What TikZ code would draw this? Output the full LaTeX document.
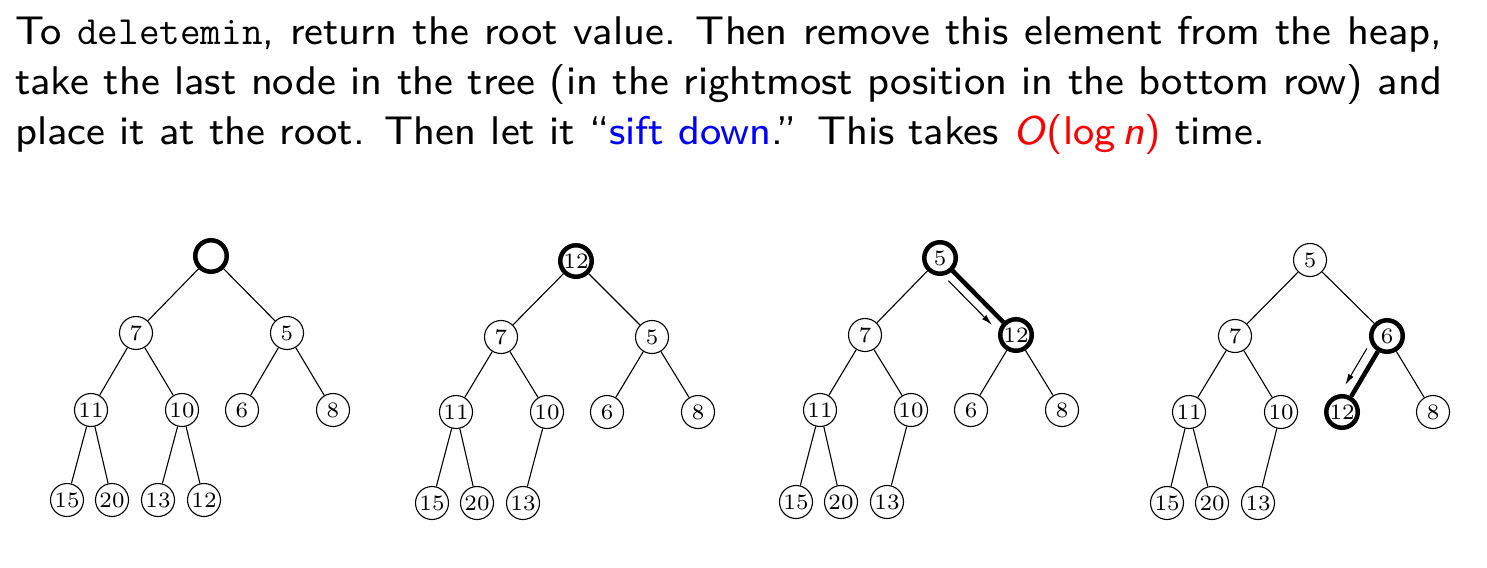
\documentclass[tikz,border=0pt]{standalone}
\usepackage{fontspec}
\newfontfamily\slidesans{lmsans8-regular.otf}[ItalicFont=lmsans8-oblique.otf,Ligatures=TeX]
\newfontfamily\numfont{lmroman7-regular.otf}
\usetikzlibrary{calc,arrows.meta}
\newcommand{\sentsp}{\hspace{0.5em}}
\tikzset{
  hnode/.style={circle, draw, line width=1.1pt, minimum size=33pt, inner sep=0pt,
    font=\numfont\fontsize{22}{22}\selectfont},
  hbold/.style={hnode, line width=4.5pt, minimum size=31.5pt},
  hedge/.style={line width=1.1pt},
  hthick/.style={line width=4.5pt},
  harrow/.style={line width=1.1pt, -{Latex[length=11pt,width=6pt]}},
  ptext/.style={anchor=base west, text width=1427pt, align=justify, inner sep=0pt,
    font=\slidesans\fontsize{40}{50}\selectfont}
}
\begin{document}
\begin{tikzpicture}[x=1pt,y=-1pt]
\useasboundingbox (0,0) rectangle (1487,567);
\node[ptext] (txt) at (15,45) {To \texttt{deletemin}, return the root value.\sentsp Then remove this element from the heap,\linebreak take the last node in the tree (in the rightmost position in the bottom row) and\linebreak place it at the root.\sentsp Then let it “\textcolor{blue}{sift down}.”\sentsp This takes \textcolor{red}{\textit{O}(log\,\textit{n})} time.};

% Tree 1
\begin{scope}[shift={(211,256)}]
\node[hbold] (t1r) at (0,0) {};
\node[hnode] (t1a) at (-75,77) {7};
\node[hnode] (t1b) at (76,77) {5};
\node[hnode] (t1c) at (-120,154) {11};
\node[hnode] (t1d) at (-29,154) {10};
\node[hnode] (t1e) at (31,154) {6};
\node[hnode] (t1f) at (122,154) {8};
\node[hnode] (t1g) at (-144,244) {15};
\node[hnode] (t1h) at (-99,244) {20};
\node[hnode] (t1i) at (-53,244) {13};
\node[hnode] (t1j) at (-7,244) {12};
\draw[hedge] (t1r)--(t1a) (t1r)--(t1b) (t1a)--(t1c) (t1a)--(t1d) (t1b)--(t1e) (t1b)--(t1f)
  (t1c)--(t1g) (t1c)--(t1h) (t1d)--(t1i) (t1d)--(t1j);
\end{scope}

% Tree 2
\begin{scope}[shift={(576,261)}]
\node[hbold] (t2r) at (0,0) {12};
\node[hnode] (t2a) at (-75,76) {7};
\node[hnode] (t2b) at (76,76) {5};
\node[hnode] (t2c) at (-120,151) {11};
\node[hnode] (t2d) at (-29,151) {10};
\node[hnode] (t2e) at (31,151) {6};
\node[hnode] (t2f) at (122,151) {8};
\node[hnode] (t2g) at (-144,242) {15};
\node[hnode] (t2h) at (-99,242) {20};
\node[hnode] (t2i) at (-53,242) {13};
\draw[hedge] (t2r)--(t2a) (t2r)--(t2b) (t2a)--(t2c) (t2a)--(t2d) (t2b)--(t2e) (t2b)--(t2f)
  (t2c)--(t2g) (t2c)--(t2h) (t2d)--(t2i);
\end{scope}

% Tree 3
\begin{scope}[shift={(940,258)}]
\node[hbold] (t3r) at (0,0) {5};
\node[hnode] (t3a) at (-75,77) {7};
\node[hbold] (t3b) at (76,77) {12};
\node[hnode] (t3c) at (-120,152) {11};
\node[hnode] (t3d) at (-29,152) {10};
\node[hnode] (t3e) at (31,152) {6};
\node[hnode] (t3f) at (122,152) {8};
\node[hnode] (t3g) at (-144,244) {15};
\node[hnode] (t3h) at (-99,244) {20};
\node[hnode] (t3i) at (-53,244) {13};
\draw[hedge] (t3r)--(t3a) (t3a)--(t3c) (t3a)--(t3d) (t3b)--(t3e) (t3b)--(t3f)
  (t3c)--(t3g) (t3c)--(t3h) (t3d)--(t3i);
\draw[hthick] (t3r)--(t3b);
\end{scope}
\coordinate (p3s) at ($(t3r)!22pt!(t3b)$);
\coordinate (a3s) at ($(p3s)!10pt!-90:(t3b)$);
\coordinate (p3e) at ($(t3b)!24pt!(t3r)$);
\coordinate (a3e) at ($(p3e)!10pt!90:(t3r)$);
\draw[harrow] (a3s)--(a3e);

% Tree 4
\begin{scope}[shift={(1310,260)}]
\node[hnode] (t4r) at (0,0) {5};
\node[hnode] (t4a) at (-75,76) {7};
\node[hbold] (t4b) at (77,76) {6};
\node[hnode] (t4c) at (-121,152) {11};
\node[hnode] (t4d) at (-29,152) {10};
\node[hbold] (t4e) at (32,152) {12};
\node[hnode] (t4f) at (123,152) {8};
\node[hnode] (t4g) at (-143,243) {15};
\node[hnode] (t4h) at (-98,243) {20};
\node[hnode] (t4i) at (-52,243) {13};
\draw[hedge] (t4r)--(t4a) (t4r)--(t4b) (t4a)--(t4c) (t4a)--(t4d) (t4b)--(t4f)
  (t4c)--(t4g) (t4c)--(t4h) (t4d)--(t4i);
\draw[hthick] (t4b)--(t4e);
\end{scope}
\coordinate (p4s) at ($(t4b)!21pt!(t4e)$);
\coordinate (a4s) at ($(p4s)!11pt!-90:(t4e)$);
\coordinate (p4e) at ($(t4e)!25pt!(t4b)$);
\coordinate (a4e) at ($(p4e)!11pt!90:(t4b)$);
\draw[harrow] (a4s)--(a4e);
\end{tikzpicture}
\end{document}
